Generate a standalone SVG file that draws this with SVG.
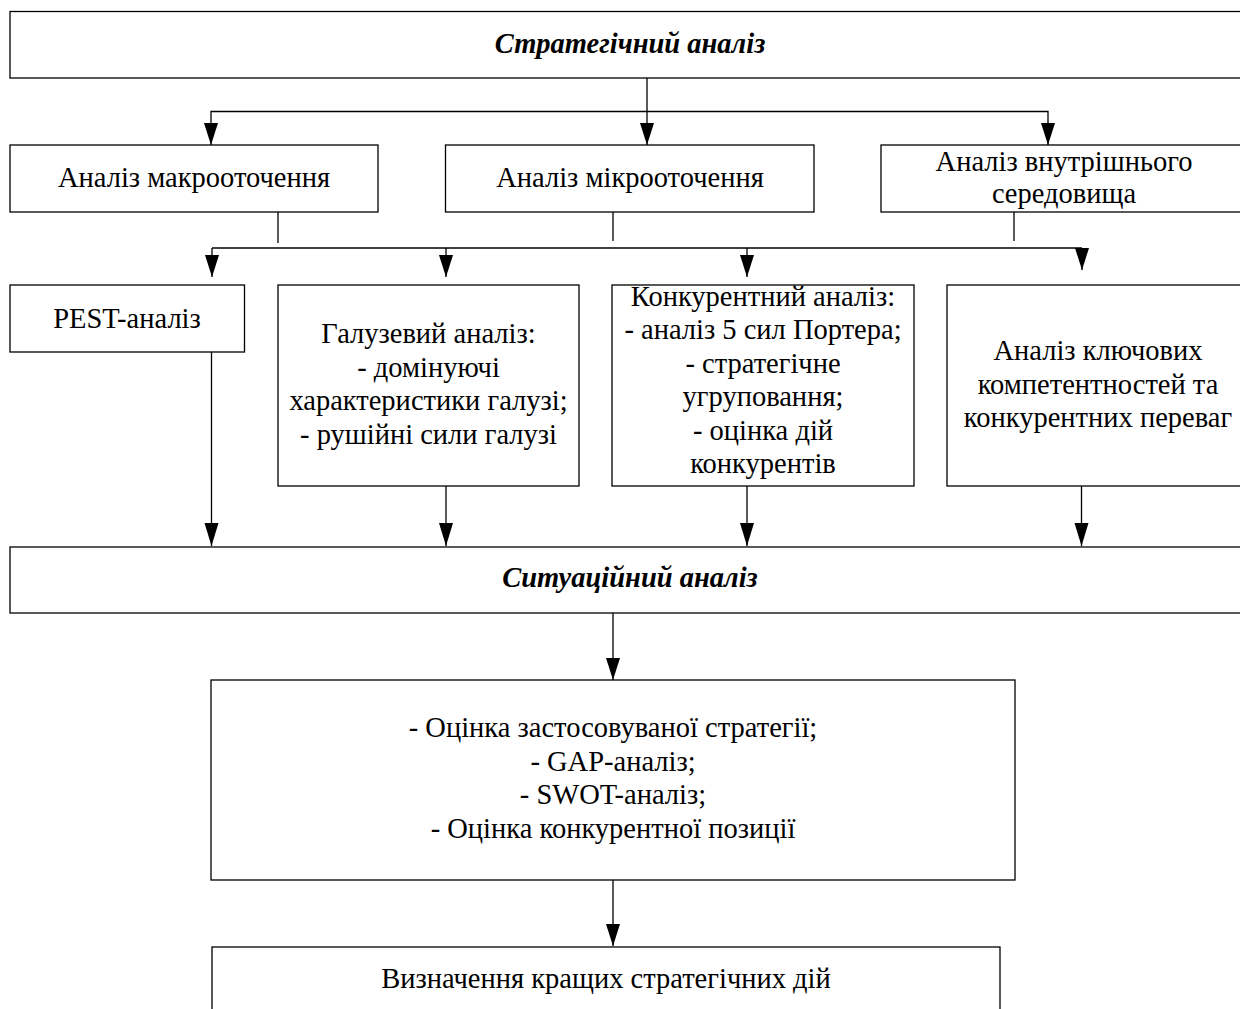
<svg xmlns="http://www.w3.org/2000/svg" width="1240" height="1009" viewBox="0 0 1240 1009">
<style>
.box{fill:#fff;stroke:#000;stroke-width:1.3}
.t{font-family:"Liberation Serif","Times New Roman",serif;font-size:28.5px;fill:#000;text-anchor:middle}
.bi{font-weight:bold;font-style:italic}
.c{fill:none;stroke:#000;stroke-width:1.3}
</style>
<rect width="1240" height="1009" fill="#fff"/>
<g id="connectors">
<path class="c" d="M647,78 V145"/>
<path class="c" d="M647,111.5 H211 V145"/>
<path class="c" d="M647,111.5 H1048 V145"/>
<path class="c" d="M278,212 V243"/>
<path class="c" d="M613,212 V241"/>
<path class="c" d="M1014,212 V241"/>
<path class="c" d="M212,248 H1082"/>
<path class="c" d="M212,248 V277"/>
<path class="c" d="M446,248 V277"/>
<path class="c" d="M747,248 V277"/>
<path class="c" d="M1082,248 V270"/>
<path class="c" d="M211.5,352 V546"/>
<path class="c" d="M446,486 V546"/>
<path class="c" d="M747,486 V546"/>
<path class="c" d="M1081.5,486 V546"/>
<path class="c" d="M613,613 V680"/>
<path class="c" d="M613,880 V946"/>
<g fill="#000">
<polygon points="640,123 654,123 647,145"/>
<polygon points="204,123 218,123 211,145"/>
<polygon points="1041,123 1055,123 1048,145"/>
<polygon points="205,255 219,255 212,277"/>
<polygon points="439,255 453,255 446,277"/>
<polygon points="740,255 754,255 747,277"/>
<polygon points="1075,248 1089,248 1082,270"/>
<polygon points="204.5,523 218.5,523 211.5,546"/>
<polygon points="439,523 453,523 446,546"/>
<polygon points="740,523 754,523 747,546"/>
<polygon points="1074.5,523 1088.5,523 1081.5,546"/>
<polygon points="606,658 620,658 613,680"/>
<polygon points="606,924 620,924 613,946"/>
</g>
</g>
<g id="n-strategic"><rect class="box" x="10" y="11.5" width="1240" height="66.5"/><text class="t bi" x="630" y="53">Стратегічний аналіз</text></g>
<g id="n-macro"><rect class="box" x="10" y="145" width="368" height="67"/><text class="t" x="194" y="187">Аналіз макрооточення</text></g>
<g id="n-micro"><rect class="box" x="445.5" y="145" width="368.5" height="67"/><text class="t" x="630" y="187">Аналіз мікрооточення</text></g>
<g id="n-internal"><rect class="box" x="881" y="145" width="370" height="67"/><text class="t" x="1064" y="171">Аналіз внутрішнього</text><text class="t" x="1064" y="203">середовища</text></g>
<g id="n-pest"><rect class="box" x="10" y="285" width="234.5" height="67"/><text class="t" x="127" y="328">PEST-аналіз</text></g>
<g id="n-industry"><rect class="box" x="278" y="285" width="301" height="201"/><text class="t" x="428.5" y="343">Галузевий аналіз:</text><text class="t" x="428.5" y="376.5">- домінуючі</text><text class="t" x="428.5" y="410">характеристики галузі;</text><text class="t" x="428.5" y="443.5">- рушійні сили галузі</text></g>
<g id="n-competitive"><rect class="box" x="612" y="285" width="302" height="201"/><text class="t" x="763" y="306">Конкурентний аналіз:</text><text class="t" x="763" y="339">- аналіз 5 сил Портера;</text><text class="t" x="763" y="372.5">- стратегічне</text><text class="t" x="763" y="406">угруповання;</text><text class="t" x="763" y="439.5">- оцінка дій</text><text class="t" x="763" y="473">конкурентів</text></g>
<g id="n-key"><rect class="box" x="947" y="285" width="310" height="201"/><text class="t" x="1098" y="360">Аналіз ключових</text><text class="t" x="1098" y="393.5">компетентностей та</text><text class="t" x="1098" y="427">конкурентних переваг</text></g>
<g id="n-situational"><rect class="box" x="10" y="547" width="1240" height="66"/><text class="t bi" x="630" y="587">Ситуаційний аналіз</text></g>
<g id="n-assessment"><rect class="box" x="211" y="680" width="804" height="200"/><text class="t" x="613" y="737">- Оцінка застосовуваної стратегії;</text><text class="t" x="613" y="770.5">- GAP-аналіз;</text><text class="t" x="613" y="804">- SWOT-аналіз;</text><text class="t" x="613" y="838">- Оцінка конкурентної позиції</text></g>
<g id="n-best"><rect class="box" x="212" y="947" width="788" height="80"/><text class="t" x="606" y="988">Визначення кращих стратегічних дій</text></g>
</svg>
